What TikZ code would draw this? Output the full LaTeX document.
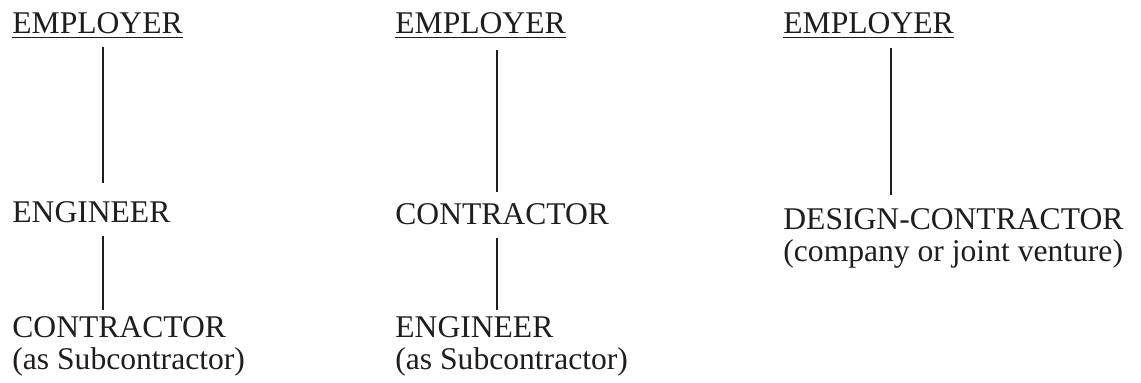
\documentclass[tikz,border=0pt]{standalone}
\usepackage{fontspec}
\setmainfont{Liberation Serif}
\usetikzlibrary{positioning,calc}
\definecolor{inkc}{HTML}{1E1E1E}

\begin{document}
\begin{tikzpicture}[
  x=0.5pt, y=-0.5pt,
  font=\fontsize{15.8}{15.5}\selectfont,
  party/.style={anchor=base west, inner sep=0pt, text=inkc},
  link/.style={draw=inkc, line width=0.7pt, shorten <=6.5pt},
]
\useasboundingbox (0,0) rectangle (1141,383);

% ---- column 1: engineer between employer and contractor ----
\node[party] (emp1) at (12,34)  {\underline{EMPLOYER}};
\node[party] (eng1) at (12,223) {ENGINEER};
\node[party] (con1) at (12,338) {CONTRACTOR};
\node[party] (con1note) at (12,370) {(as Subcontractor)};

% ---- column 2: contractor engages engineer ----
\node[party] (emp2) at (395,34)  {\underline{EMPLOYER}};
\node[party] (con2) at (395,225) {CONTRACTOR};
\node[party] (eng2) at (395,338) {ENGINEER};
\node[party] (eng2note) at (395,370) {(as Subcontractor)};

% ---- column 3: design-contractor ----
\node[party] (emp3) at (783,34)  {\underline{EMPLOYER}};
\node[party] (dcon) at (783,230) {DESIGN-CONTRACTOR};
\node[party] (dconnote) at (783,262) {(company or joint venture)};

% ---- links (slightly right of the label centres) ----
\coordinate (x1) at (103,0);
\coordinate (x2) at (497,0);
\coordinate (x3) at (891,0);
\draw[link, shorten >=20pt] (emp1.base -| x1) -- (eng1.base -| x1);
\draw[link, shorten >=14pt] (eng1.base -| x1) -- (con1.base -| x1);
\draw[link, shorten <=8pt, shorten >=16.5pt] (emp2.base -| x2) -- (con2.base -| x2);
\draw[link, shorten >=14pt] (con2.base -| x2) -- (eng2.base -| x2);
\draw[link, shorten <=7pt, shorten >=17.5pt] (emp3.base -| x3) -- (dcon.base -| x3);
\end{tikzpicture}
\end{document}
